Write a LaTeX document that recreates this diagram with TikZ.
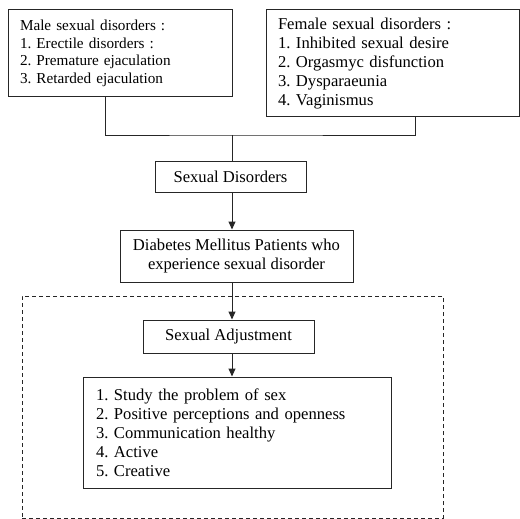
\documentclass[tikz,border=0pt]{standalone}
\usepackage{fontspec}
\setmainfont{Liberation Serif}
\usetikzlibrary{arrows.meta}
\newcommand{\mainfs}{\fontsize{16.6}{19}\selectfont\frenchspacing}
\newcommand{\malefs}{\fontsize{15.2}{17.6}\selectfont\frenchspacing}
\tikzset{
  box/.style={draw=black!85, line width=1pt, inner sep=0pt, font=\mainfs},
  listbox/.style={box, align=left},
  link/.style={draw=black!85, line width=1pt},
  arr/.style={link, -{Triangle[length=8pt,width=7pt]}},
  groupbox/.style={draw=black!85, line width=0.8pt, dash pattern=on 4pt off 3pt, inner sep=0pt}
}
\begin{document}
\begin{tikzpicture}[x=1pt,y=-1pt]
\useasboundingbox (0,0) rectangle (520,519);
% dashed group
\node[groupbox, minimum width=421pt, minimum height=222pt] (group) at (232.5,407) {};
% top boxes
\node[listbox, font=\malefs, text width=200pt, inner xsep=12pt, minimum height=87pt] (male) at (120,53.5)
  {Male sexual disorders :\\1. Erectile disorders :\\2. Premature ejaculation\\3. Retarded ejaculation};
\node[listbox, text width=229pt, inner xsep=12pt, minimum height=107pt] (female) at (392.5,63.5)
  {Female sexual disorders :\\1. Inhibited sexual desire\\2. Orgasmyc disfunction\\3. Dysparaeunia\\4. Vaginismus};
% middle boxes
\node[box, minimum width=151pt, minimum height=31pt] (sd) at (230.5,176.5) {Sexual Disorders};
\node[box, align=center, minimum width=233pt, minimum height=52pt] (dm) at (236.5,256)
  {Diabetes Mellitus Patients who\\experience sexual disorder};
\node[box, minimum width=171pt, minimum height=33pt] (sa) at (228.5,336.5) {Sexual Adjustment};
\node[listbox, text width=282pt, inner xsep=13pt, minimum height=111pt] (list) at (237,432.5)
  {1. Study the problem of sex\\2. Positive perceptions and openness\\3. Communication healthy\\4. Active\\5. Creative};
% connector guides
\coordinate (mx) at (105,0);
\coordinate (fx) at (415,0);
\coordinate (ax) at (232,0);
\coordinate (j) at (232,135);
% connectors
\draw[link] (male.south -| mx) |- (j) -| (female.south -| fx);
\draw[link] (j) -- (sd.north -| ax);
\draw[arr] (sd.south -| ax) -- (dm.north -| ax);
\draw[arr] (dm.south -| ax) -- (sa.north -| ax);
\draw[arr] (sa.south -| ax) -- (list.north -| ax);
\end{tikzpicture}
\end{document}
